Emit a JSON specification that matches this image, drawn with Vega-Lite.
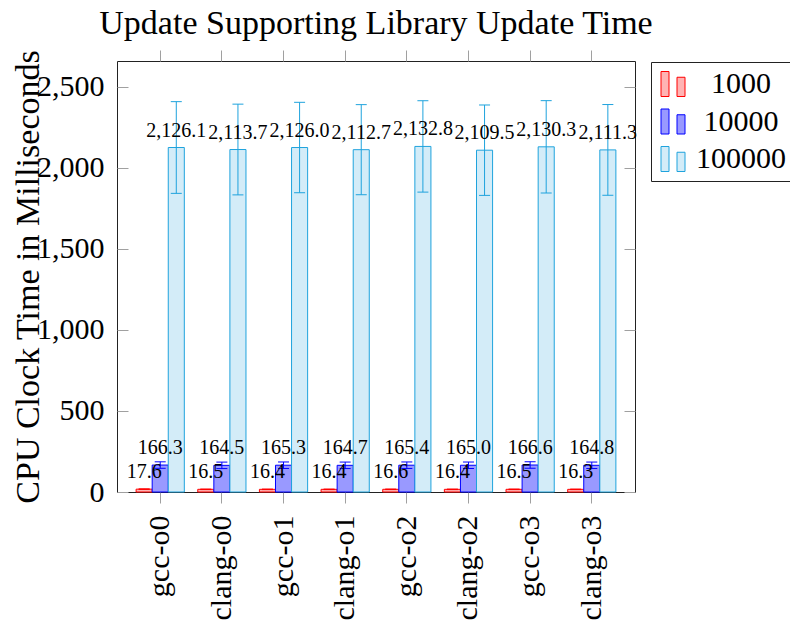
{
  "$schema": "https://vega.github.io/schema/vega-lite/v6.json",
  "width": 518,
  "height": 431,
  "autosize": {"type": "none"},
  "padding": {"left": 117, "top": 61, "right": 155, "bottom": 136},
  "background": "white",
  "config": {
    "font": "Liberation Serif",
    "view": {"stroke": "#222222", "strokeWidth": 1},
    "axis": {"grid": false, "domain": false, "tickColor": "#a0a0a0", "labelColor": "black", "titleColor": "black", "labelFont": "Liberation Serif", "titleFont": "Liberation Serif"}
  },
  "title": {
    "text": "Update Supporting Library Update Time",
    "fontSize": 34,
    "fontWeight": "normal",
    "font": "Liberation Serif",
    "frame": "group",
    "anchor": "middle",
    "baseline": "alphabetic",
    "offset": -19,
    "color": "black"
  },
  "data": {
    "values": [
      {"cfg": "gcc-o0", "n": "1000", "v": 17.6, "lo": 16.1, "hi": 19.1},
      {"cfg": "gcc-o0", "n": "10000", "v": 166.3, "lo": 146.3, "hi": 186.3},
      {"cfg": "gcc-o0", "n": "100000", "v": 2126.1, "lo": 1843.1, "hi": 2409.1},
      {"cfg": "clang-o0", "n": "1000", "v": 16.5, "lo": 15.0, "hi": 18.0},
      {"cfg": "clang-o0", "n": "10000", "v": 164.5, "lo": 144.5, "hi": 184.5},
      {"cfg": "clang-o0", "n": "100000", "v": 2113.7, "lo": 1833.7, "hi": 2393.7},
      {"cfg": "gcc-o1", "n": "1000", "v": 16.4, "lo": 14.9, "hi": 17.9},
      {"cfg": "gcc-o1", "n": "10000", "v": 165.3, "lo": 145.3, "hi": 185.3},
      {"cfg": "gcc-o1", "n": "100000", "v": 2126.0, "lo": 1847.0, "hi": 2405.0},
      {"cfg": "clang-o1", "n": "1000", "v": 16.4, "lo": 14.9, "hi": 17.9},
      {"cfg": "clang-o1", "n": "10000", "v": 164.7, "lo": 144.7, "hi": 184.7},
      {"cfg": "clang-o1", "n": "100000", "v": 2112.7, "lo": 1834.7, "hi": 2390.7},
      {"cfg": "gcc-o2", "n": "1000", "v": 16.6, "lo": 15.1, "hi": 18.1},
      {"cfg": "gcc-o2", "n": "10000", "v": 165.4, "lo": 145.4, "hi": 185.4},
      {"cfg": "gcc-o2", "n": "100000", "v": 2132.8, "lo": 1850.8, "hi": 2414.8},
      {"cfg": "clang-o2", "n": "1000", "v": 16.4, "lo": 14.9, "hi": 17.9},
      {"cfg": "clang-o2", "n": "10000", "v": 165.0, "lo": 145.0, "hi": 185.0},
      {"cfg": "clang-o2", "n": "100000", "v": 2109.5, "lo": 1830.5, "hi": 2388.5},
      {"cfg": "gcc-o3", "n": "1000", "v": 16.5, "lo": 15.0, "hi": 18.0},
      {"cfg": "gcc-o3", "n": "10000", "v": 166.6, "lo": 146.6, "hi": 186.6},
      {"cfg": "gcc-o3", "n": "100000", "v": 2130.3, "lo": 1845.3, "hi": 2415.3},
      {"cfg": "clang-o3", "n": "1000", "v": 16.3, "lo": 14.8, "hi": 17.8},
      {"cfg": "clang-o3", "n": "10000", "v": 164.8, "lo": 144.8, "hi": 184.8},
      {"cfg": "clang-o3", "n": "100000", "v": 2111.3, "lo": 1831.3, "hi": 2391.3}
    ]
  },
  "layer": [
    {
      "mark": {"type": "bar", "strokeWidth": 1, "fillOpacity": 1},
      "encoding": {
        "x": {
          "field": "cfg", "type": "nominal", "sort": null,
          "scale": {"paddingInner": 0.218, "paddingOuter": 0.31},
          "axis": {"orient": "bottom", "title": null, "labelAngle": -90, "labelFontSize": 30, "labelPadding": 12, "tickSize": 11}
        },
        "xOffset": {"field": "n", "type": "nominal", "scale": {"domain": ["1000", "10000", "100000"]}},
        "y": {
          "field": "v", "type": "quantitative",
          "scale": {"domain": [0, 2660], "nice": false, "zero": true},
          "axis": {
            "orient": "left", "values": [0, 500, 1000, 1500, 2000, 2500], "format": ",.0f",
            "tickSize": -11, "labelPadding": 24, "labelFontSize": 30,
            "title": "CPU Clock Time in Milliseconds", "titleFontSize": 34, "titleFontWeight": "normal",
            "titleX": -89, "titleBaseline": "middle"
          }
        },
        "fill": {
          "field": "n", "type": "nominal",
          "scale": {"domain": ["1000", "10000", "100000"], "range": ["#ffb3b3", "#9999ff", "#d3ecf8"]},
          "legend": {
            "title": null, "orient": "none", "legendX": 534, "legendY": 1, "padding": 7,
            "strokeColor": "#222222", "fillColor": "white",
            "symbolType": "M-0.96,-1H-0.32V1H-0.96Z M0.32,-0.54H0.96V1H0.32Z",
            "symbolSize": 625, "symbolStrokeWidth": 1,
            "labelFontSize": 30, "labelFont": "Liberation Serif", "labelColor": "black",
            "labelAlign": "center", "labelOffset": 53, "rowPadding": 7.5
          }
        },
        "stroke": {
          "field": "n", "type": "nominal",
          "scale": {"domain": ["1000", "10000", "100000"], "range": ["#ff0000", "#0000ff", "#1fa3dd"]},
          "legend": {
            "title": null, "orient": "none", "legendX": 534, "legendY": 1, "padding": 7,
            "strokeColor": "#222222", "fillColor": "white",
            "symbolType": "M-0.96,-1H-0.32V1H-0.96Z M0.32,-0.54H0.96V1H0.32Z",
            "symbolSize": 625, "symbolStrokeWidth": 1,
            "labelFontSize": 30, "labelFont": "Liberation Serif", "labelColor": "black",
            "labelAlign": "center", "labelOffset": 53, "rowPadding": 7.5
          }
        }
      }
    },
    {
      "mark": {"type": "rule", "strokeWidth": 1},
      "encoding": {
        "x": {"field": "cfg", "type": "nominal", "sort": null, "axis": null},
        "xOffset": {"field": "n", "type": "nominal"},
        "y": {"field": "lo", "type": "quantitative", "axis": null},
        "y2": {"field": "hi"},
        "stroke": {"field": "n", "type": "nominal", "legend": null}
      }
    },
    {
      "mark": {"type": "point", "shape": "stroke", "filled": false, "size": 121, "strokeWidth": 1, "opacity": 1},
      "encoding": {
        "x": {"field": "cfg", "type": "nominal", "sort": null, "axis": null},
        "xOffset": {"field": "n", "type": "nominal"},
        "y": {"field": "lo", "type": "quantitative", "axis": null},
        "stroke": {"field": "n", "type": "nominal", "legend": null}
      }
    },
    {
      "mark": {"type": "point", "shape": "stroke", "filled": false, "size": 121, "strokeWidth": 1, "opacity": 1},
      "encoding": {
        "x": {"field": "cfg", "type": "nominal", "sort": null, "axis": null},
        "xOffset": {"field": "n", "type": "nominal"},
        "y": {"field": "hi", "type": "quantitative", "axis": null},
        "stroke": {"field": "n", "type": "nominal", "legend": null}
      }
    },
    {
      "mark": {"type": "text", "baseline": "alphabetic", "dy": -11, "fontSize": 20, "font": "Liberation Serif", "color": "black"},
      "encoding": {
        "x": {
          "field": "cfg", "type": "nominal", "sort": null,
          "axis": {"orient": "top", "labels": false, "title": null, "tickSize": 11}
        },
        "xOffset": {"field": "n", "type": "nominal"},
        "y": {
          "field": "v", "type": "quantitative",
          "axis": {"orient": "right", "labels": false, "title": null, "tickSize": -11, "values": [0, 500, 1000, 1500, 2000, 2500]}
        },
        "text": {"field": "v", "type": "quantitative", "format": ",.1f"}
      }
    }
  ],
  "resolve": {"axis": {"x": "independent", "y": "independent"}}
}
